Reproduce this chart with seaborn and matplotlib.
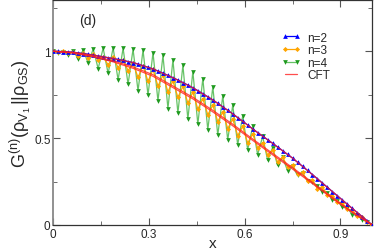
import numpy as np
import pandas as pd
import matplotlib
matplotlib.use("Agg")
import matplotlib.pyplot as plt
import seaborn as sns
from matplotlib.ticker import MultipleLocator

# ---- data ----
L = 64
k_idx = list(range(L + 1))

n2_vals = [1.000, 0.999, 0.998, 0.996, 0.994, 0.991, 0.987, 0.983, 0.978, 0.973,
           0.968, 0.963, 0.958, 0.953, 0.947, 0.941, 0.935, 0.926, 0.917, 0.908,
           0.898, 0.886, 0.874, 0.861, 0.848, 0.834, 0.820, 0.805, 0.790, 0.773,
           0.756, 0.738, 0.720, 0.700, 0.680, 0.660, 0.640, 0.618, 0.597, 0.575,
           0.553, 0.532, 0.511, 0.491, 0.470, 0.449, 0.428, 0.406, 0.385, 0.361,
           0.338, 0.314, 0.290, 0.266, 0.241, 0.217, 0.192, 0.168, 0.144, 0.119,
           0.095, 0.071, 0.048, 0.024, 0.000]

n3_vals = [1.000, 0.995, 0.999, 0.991, 0.995, 0.972, 0.992, 0.962, 0.982, 0.950,
           0.968, 0.922, 0.965, 0.906, 0.948, 0.889, 0.930, 0.849, 0.918, 0.826,
           0.895, 0.799, 0.862, 0.766, 0.830, 0.734, 0.798, 0.701, 0.765, 0.666,
           0.728, 0.634, 0.690, 0.595, 0.650, 0.555, 0.610, 0.514, 0.568, 0.471,
           0.525, 0.444, 0.474, 0.403, 0.432, 0.362, 0.391, 0.336, 0.345, 0.294,
           0.303, 0.251, 0.260, 0.208, 0.217, 0.175, 0.168, 0.132, 0.126, 0.091,
           0.085, 0.051, 0.048, 0.015, 0.000]

n4_vals = [1.000, 0.990, 0.998, 0.979, 1.004, 0.954, 1.008, 0.931, 1.013, 0.900,
           1.018, 0.872, 1.020, 0.835, 1.018, 0.810, 1.012, 0.772, 1.007, 0.747,
           0.992, 0.714, 0.977, 0.670, 0.950, 0.644, 0.920, 0.609, 0.883, 0.580,
           0.843, 0.548, 0.795, 0.518, 0.743, 0.490, 0.690, 0.462, 0.628, 0.433,
           0.567, 0.405, 0.510, 0.372, 0.446, 0.343, 0.389, 0.313, 0.338, 0.285,
           0.298, 0.255, 0.250, 0.222, 0.192, 0.185, 0.145, 0.140, 0.102, 0.097,
           0.060, 0.055, 0.030, 0.018, 0.000]

cft_x = [0.0, 0.0625, 0.125, 0.1875, 0.25, 0.3125, 0.375, 0.4375, 0.5,
         0.5625, 0.625, 0.6875, 0.75, 0.8125, 0.875, 0.9375, 1.0]
cft_n2 = [1.000, 0.994, 0.978, 0.958, 0.935, 0.898, 0.848, 0.790, 0.720,
          0.640, 0.553, 0.470, 0.385, 0.290, 0.192, 0.095, 0.000]
cft_n3 = [1.000, 0.992, 0.972, 0.945, 0.910, 0.865, 0.800, 0.735, 0.660,
          0.580, 0.495, 0.412, 0.330, 0.245, 0.158, 0.075, 0.000]
cft_n4 = [1.000, 0.990, 0.968, 0.939, 0.902, 0.856, 0.791, 0.726, 0.651,
          0.571, 0.487, 0.404, 0.322, 0.238, 0.152, 0.071, 0.000]

x_ticks = [0, 0.3, 0.6, 0.9]
x_ticklabels = ["0", "0.3", "0.6", "0.9"]
y_ticks = [0, 0.5, 1]
y_ticklabels = ["0", "0.5", "1"]

# ---- build tables ----
xs = [k / L for k in k_idx]
df2 = pd.DataFrame({"x": xs, "G": n2_vals})
df3 = pd.DataFrame({"x": xs, "G": n3_vals})
df4 = pd.DataFrame({"x": xs, "G": n4_vals})
dfc2 = pd.DataFrame({"x": cft_x, "G": cft_n2})
dfc3 = pd.DataFrame({"x": cft_x, "G": cft_n3})
dfc4 = pd.DataFrame({"x": cft_x, "G": cft_n4})

sns.set_style("ticks")
plt.rcParams['font.family'] = ['Liberation Sans', 'DejaVu Sans']
plt.rcParams['mathtext.fontset'] = 'custom'
plt.rcParams['mathtext.rm'] = 'Liberation Sans'
plt.rcParams['mathtext.it'] = 'Liberation Sans'

fig = plt.figure(figsize=(3.74, 2.51), dpi=100)
ax = fig.add_axes([53.3 / 374, 25 / 251, 319 / 374, 225 / 251])

green = "#1f9a1f"
orange = "#ffa500"
blue = "#0000ff"
red = "#ff2020"

sns.lineplot(data=df4, x="x", y="G", ax=ax, color="#66c266", lw=0.9,
             marker="v", markersize=3.4, markeredgewidth=0, markerfacecolor=green,
             label="n=4", zorder=2)
sns.lineplot(data=df3, x="x", y="G", ax=ax, color=orange, lw=0.9,
             marker="D", markersize=2.6, markeredgewidth=0, markerfacecolor=orange,
             label="n=3", zorder=3)
sns.lineplot(data=df2, x="x", y="G", ax=ax, color=blue, lw=0.9,
             marker="^", markersize=3.4, markeredgewidth=0,
             label="n=2", zorder=4)
sns.lineplot(data=dfc2, x="x", y="G", ax=ax, color=red, lw=0.9, alpha=0.8,
             label="CFT", zorder=5)
sns.lineplot(data=dfc3, x="x", y="G", ax=ax, color=red, lw=0.9, alpha=0.8,
             zorder=5)
sns.lineplot(data=dfc4, x="x", y="G", ax=ax, color=red, lw=0.9, alpha=0.8,
             zorder=5)

ax.set_xlim(0, 1)
ax.set_ylim(0, 1.295)
ax.set_xticks(x_ticks)
ax.set_xticklabels(x_ticklabels)
ax.set_yticks(y_ticks)
ax.set_yticklabels(y_ticklabels)
ax.xaxis.set_minor_locator(MultipleLocator(0.15))
ax.yaxis.set_minor_locator(MultipleLocator(0.25))
ax.tick_params(which="both", direction="in", top=True, right=True,
               labelsize=8.5, pad=2, color="#555555")
ax.tick_params(which="major", length=5)
ax.tick_params(which="minor", length=3)
for s in ax.spines.values():
    s.set_color("#333333")
    s.set_linewidth(0.9)
ax.spines["left"].set_color("#888888")
ax.spines["left"].set_linewidth(1.3)

ax.set_xlabel("x", fontsize=11, labelpad=-3)
ax.set_ylabel(r"$\mathrm{G^{(n)}(\rho_{V_1}\,||\rho_{GS})}$", fontsize=13, labelpad=1)
ax.text(0.107, 1.18, "(d)", fontsize=10, ha="center", va="center")

handles, labels = ax.get_legend_handles_labels()
order = [labels.index(l) for l in ["n=2", "n=3", "n=4", "CFT"]]
ax.legend([handles[i] for i in order], [labels[i] for i in order],
          loc="upper left", bbox_to_anchor=(0.715, 0.86), frameon=False,
          fontsize=8.5, handlelength=1.6, handletextpad=0.6,
          labelspacing=0.05, borderaxespad=0, borderpad=0, numpoints=2)

fig.savefig("out.png", dpi=100)
